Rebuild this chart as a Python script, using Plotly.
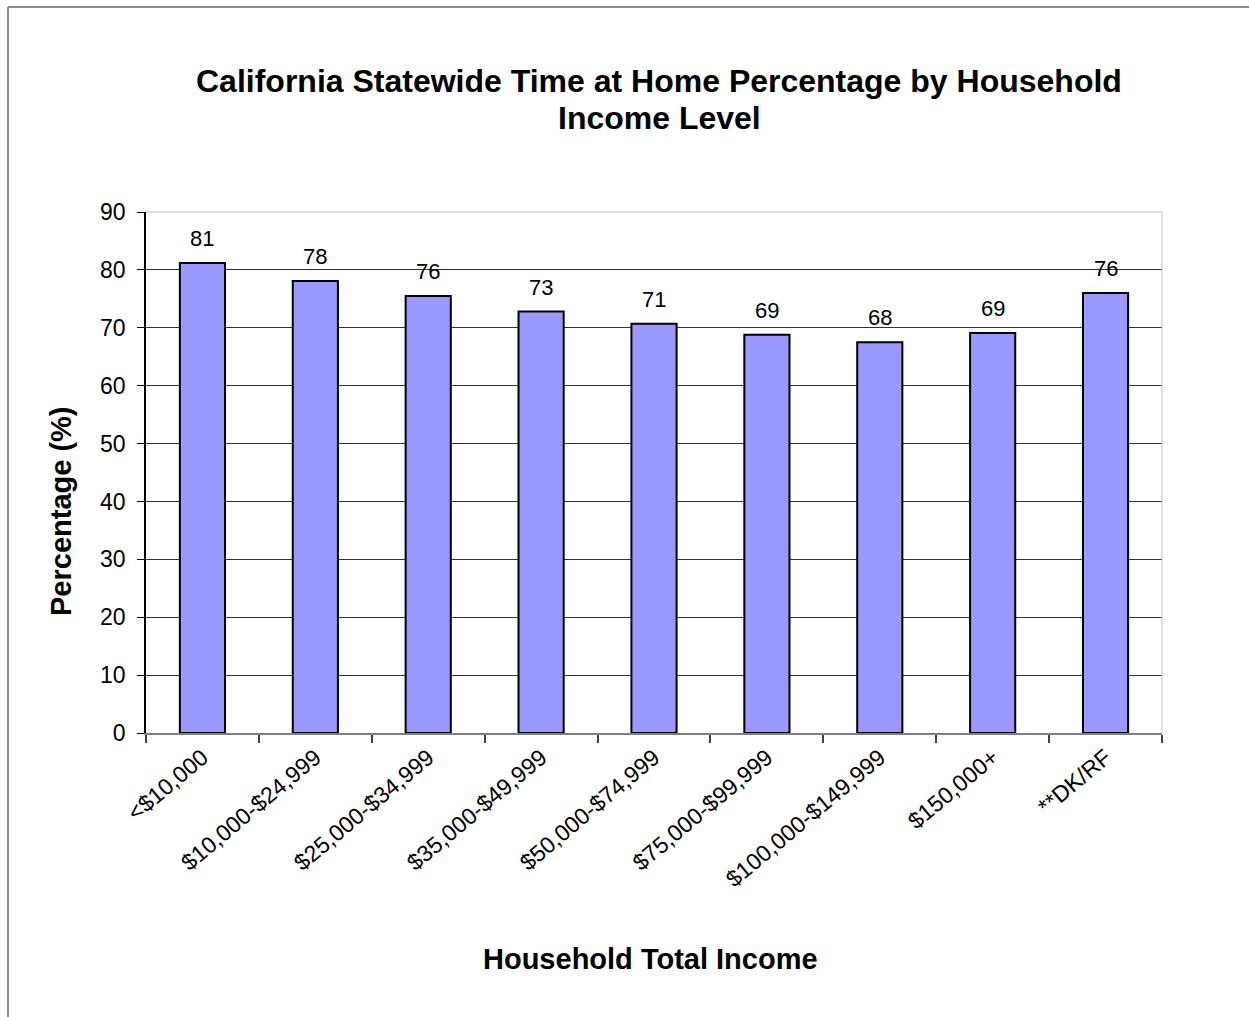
import plotly.graph_objects as go

# Household income categories and time-at-home percentages
categories = ["<$10,000", "$10,000-$24,999", "$25,000-$34,999", "$35,000-$49,999",
              "$50,000-$74,999", "$75,000-$99,999", "$100,000-$149,999", "$150,000+", "**DK/RF"]
percent = [81.2, 78.1, 75.5, 72.8, 70.7, 68.8, 67.5, 69.1, 76.0]
y_ticks = [0, 10, 20, 30, 40, 50, 60, 70, 80, 90]

FONT = "Arial, Liberation Sans, sans-serif"
W, H = 1249, 1017
L, R, T, B = 146, 87, 212, 284
pw, ph = W - L - R, H - T - B

fig = go.Figure(go.Bar(
    x=categories, y=percent, width=0.4,
    marker=dict(color="#9999FF", line=dict(color="#000000", width=2)),
    hoverinfo="x+y",
))

# value labels above each bar
for c, v in zip(categories, percent):
    fig.add_annotation(x=c, y=v, text=f"{v:.0f}", showarrow=False, yanchor="bottom",
                       yshift=10, font=dict(family=FONT, size=22, color="#000"))


def px_x(p):
    return (p - L) / pw


def px_y(p):
    return (H - B - p) / ph


# chart title, two centred lines
for line, ypix in (("California Statewide Time at Home Percentage by Household", 81),
                   ("Income Level", 118)):
    fig.add_annotation(xref="paper", yref="paper", x=px_x(659), y=px_y(ypix),
                       text=f"<b>{line}</b>", showarrow=False, xanchor="center",
                       yanchor="middle", font=dict(family=FONT, size=32, color="#000"))

# axis titles
fig.add_annotation(xref="paper", yref="paper", x=px_x(650), y=px_y(959),
                   text="<b>Household Total Income</b>", showarrow=False,
                   xanchor="center", yanchor="middle",
                   font=dict(family=FONT, size=29, color="#000"))
fig.add_annotation(xref="paper", yref="paper", x=px_x(61), y=px_y(511),
                   text="<b>Percentage (%)</b>", showarrow=False, textangle=-90,
                   xanchor="center", yanchor="middle",
                   font=dict(family=FONT, size=29, color="#000"))

shapes = [
    # light frame on top and right of the plot area
    dict(type="line", xref="paper", yref="paper", x0=0, x1=1, y0=1, y1=1,
         line=dict(color="#c0c0c0", width=1), layer="above"),
    dict(type="line", xref="paper", yref="paper", x0=1, x1=1, y0=0, y1=1,
         line=dict(color="#c0c0c0", width=1), layer="above"),
    # outer chart border
    dict(type="line", xref="paper", yref="paper", x0=px_x(8), x1=px_x(W + 5),
         y0=px_y(7), y1=px_y(7), line=dict(color="#8c8c8c", width=2)),
    dict(type="line", xref="paper", yref="paper", x0=px_x(8), x1=px_x(8),
         y0=px_y(7), y1=px_y(H + 5), line=dict(color="#8c8c8c", width=2)),
]

fig.update_layout(
    width=W, height=H,
    margin=dict(l=L, r=R, t=T, b=B),
    paper_bgcolor="#ffffff", plot_bgcolor="#ffffff",
    showlegend=False,
    shapes=shapes,
    xaxis=dict(
        tickangle=-40, tickson="boundaries", ticks="outside", ticklen=8,
        tickcolor="#404040", tickwidth=1.5,
        showline=True, linecolor="#808080", linewidth=2,
        showgrid=False,
        tickfont=dict(family=FONT, size=23, color="#000"),
    ),
    yaxis=dict(
        range=[0, 90], tickvals=y_ticks, ticks="outside", ticklen=7,
        tickcolor="#000", tickwidth=1, ticklabelstandoff=7,
        showline=True, linecolor="#000", linewidth=1.5,
        showgrid=True, gridcolor="#333333", gridwidth=1,
        zeroline=False,
        tickfont=dict(family=FONT, size=23, color="#000"),
    ),
    font=dict(family=FONT, color="#000"),
)

fig.write_html("out.html")
